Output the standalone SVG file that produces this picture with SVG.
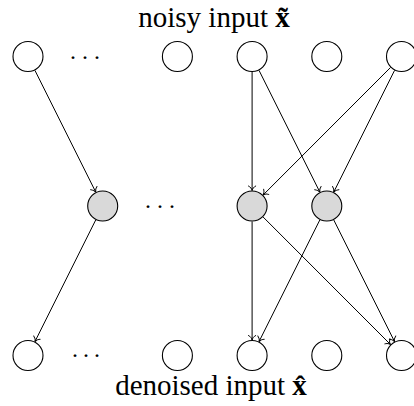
<svg xmlns="http://www.w3.org/2000/svg" width="414" height="406" viewBox="0 0 414 406">
  <style>
    .unit { stroke: #000; stroke-width: 1.1; fill: #fff; }
    .hidden { fill: #d9d9d9; }
    .edge { stroke: #000; stroke-width: 1; fill: none; marker-end: url(#tip); }
    .label { font-family: "Liberation Serif", "DejaVu Serif", serif; font-size: 29px; fill: #000; text-anchor: middle; }
    .dots { font-family: "Liberation Serif", "DejaVu Serif", serif; font-size: 24px; fill: #000; }
    .vec { font-weight: bold; }
  </style>
  <defs>
    <marker id="tip" markerUnits="userSpaceOnUse" markerWidth="10" markerHeight="10" refX="0" refY="0" orient="auto" overflow="visible">
      <path d="M -4.5 -3.6 C -3.6 -1.6 -1.6 -0.4 0 0 C -1.6 0.4 -3.6 1.6 -4.5 3.6" fill="none" stroke="#000" stroke-width="1" stroke-linecap="round"/>
    </marker>
  </defs>

  <rect width="414" height="406" fill="#fff"/>

  <!-- labels -->
  <text id="label-top" class="label" x="214" y="26.5">noisy input <tspan class="vec">x̃</tspan></text>
  <text id="label-bottom" class="label" x="211" y="395">denoised input <tspan class="vec">x̂</tspan></text>

  <!-- connectors -->
  <g id="connectors">
    <line class="edge" x1="34.93" y1="70.37" x2="95.77" y2="192.13"/>
    <line class="edge" x1="95.77" y1="219.87" x2="34.93" y2="341.63"/>
    <line class="edge" x1="252.1" y1="72" x2="252.1" y2="190.5"/>
    <line class="edge" x1="259.03" y1="70.37" x2="319.87" y2="192.13"/>
    <line class="edge" x1="390.54" y1="67.46" x2="263.06" y2="195.04"/>
    <line class="edge" x1="394.57" y1="70.37" x2="333.73" y2="192.13"/>
    <line class="edge" x1="252.1" y1="221.5" x2="252.1" y2="340"/>
    <line class="edge" x1="263.06" y1="216.96" x2="390.54" y2="344.54"/>
    <line class="edge" x1="319.87" y1="219.87" x2="259.03" y2="341.63"/>
    <line class="edge" x1="333.73" y1="219.87" x2="394.57" y2="341.63"/>
  </g>

  <!-- input layer -->
  <g id="in-1"><circle class="unit" cx="28" cy="56.5" r="15"/></g>
  <g id="in-dots"><text class="dots" x="70 82 94" y="59">...</text></g>
  <g id="in-2"><circle class="unit" cx="177.4" cy="56.5" r="15"/></g>
  <g id="in-3"><circle class="unit" cx="252.1" cy="56.5" r="15"/></g>
  <g id="in-4"><circle class="unit" cx="326.8" cy="56.5" r="15"/></g>
  <g id="in-5"><circle class="unit" cx="401.5" cy="56.5" r="15"/></g>

  <!-- hidden layer -->
  <g id="hid-1"><circle class="unit hidden" cx="102.7" cy="206" r="15"/></g>
  <g id="hid-dots"><text class="dots" x="145 157 169" y="207.5">...</text></g>
  <g id="hid-2"><circle class="unit hidden" cx="252.1" cy="206" r="15"/></g>
  <g id="hid-3"><circle class="unit hidden" cx="326.8" cy="206" r="15"/></g>

  <!-- output layer -->
  <g id="out-1"><circle class="unit" cx="28" cy="355.5" r="15"/></g>
  <g id="out-dots"><text class="dots" x="72 83 94" y="356.5">...</text></g>
  <g id="out-2"><circle class="unit" cx="177.4" cy="355.5" r="15"/></g>
  <g id="out-3"><circle class="unit" cx="252.1" cy="355.5" r="15"/></g>
  <g id="out-4"><circle class="unit" cx="326.8" cy="355.5" r="15"/></g>
  <g id="out-5"><circle class="unit" cx="401.5" cy="355.5" r="15"/></g>
</svg>
